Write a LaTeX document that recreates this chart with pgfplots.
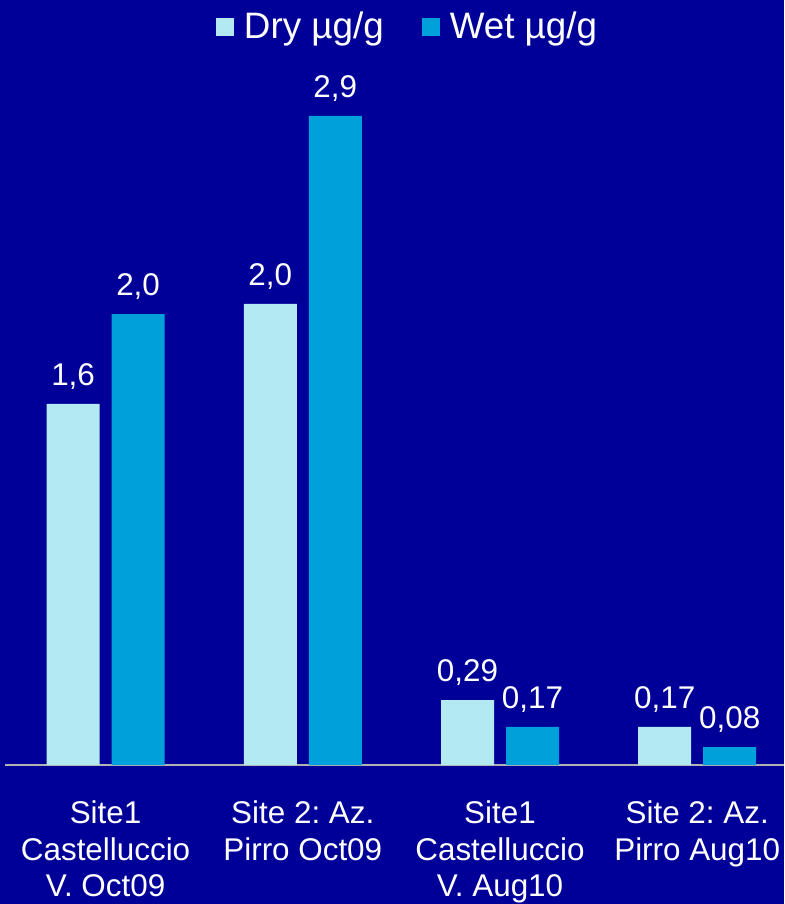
\documentclass[border=0pt]{standalone}
\usepackage{pgfplots}
\pgfplotsset{compat=1.18}
\usepackage{fontspec}
\setmainfont{Liberation Sans}
\frenchspacing
\definecolor{bg}{RGB}{0,0,153}
\definecolor{drybar}{RGB}{179,233,240}
\definecolor{wetbar}{RGB}{0,160,218}
\definecolor{axgray}{RGB}{178,178,178}
\begin{document}
\frenchspacing
\begin{tikzpicture}
\fill[bg] (0,0) rectangle (392pt,452pt);
\begin{axis}[
  at={(2.5pt,69.5pt)}, anchor=south west,
  scale only axis, width=389.5pt, height=352.5pt,
  xmin=-0.51, xmax=3.44, ymin=0, ymax=3.15,
  ybar=6pt, bar width=26.5pt,
  axis x line=bottom, axis y line=none,
  x axis line style={axgray, line width=1pt, -},
  xtick={0,1,2,3},
  xticklabels={{Site1\\Castelluccio\\V. Oct09},{Site 2: Az.\\Pirro Oct09},{Site1\\Castelluccio\\V. Aug10},{Site 2: Az.\\Pirro Aug10}},
  xticklabel style={align=center, text=white, font=\fontsize{15.7}{18.2}\selectfont\frenchspacing, yshift=-14.5pt},
  major tick length=0pt,
  point meta=explicit symbolic,
  nodes near coords,
  every node near coord/.append style={text=white, font=\fontsize{15.7}{18}\selectfont, anchor=south, inner sep=0pt, yshift=7pt},
  legend columns=2,
  legend style={at={(0.518,1.047)}, anchor=center, draw=none, fill=none, text=white,
    font=\fontsize{18.4}{20}\selectfont,
    /tikz/every even column/.append style={column sep=17pt},
    /tikz/every odd column/.append style={column sep=3pt}},
  legend image code/.code={\path[#1,draw=none] (0pt,-4.5pt) rectangle (9pt,4.5pt);},
  clip=false,
]
\addplot[fill=drybar, draw=none] coordinates {(0,1.613)[1,6] (1,2.06)[2,0] (2,0.29)[0,29] (3,0.17)[0,17]};
\addplot[fill=wetbar, draw=none] coordinates {(0,2.015)[2,0] (1,2.9)[2,9] (2,0.17)[0,17] (3,0.08)[0,08]};
\legend{Dry µg/g, Wet µg/g}
\end{axis}
\pgfresetboundingbox
\useasboundingbox (0,0) rectangle (392pt,452pt);
\end{tikzpicture}
\end{document}
